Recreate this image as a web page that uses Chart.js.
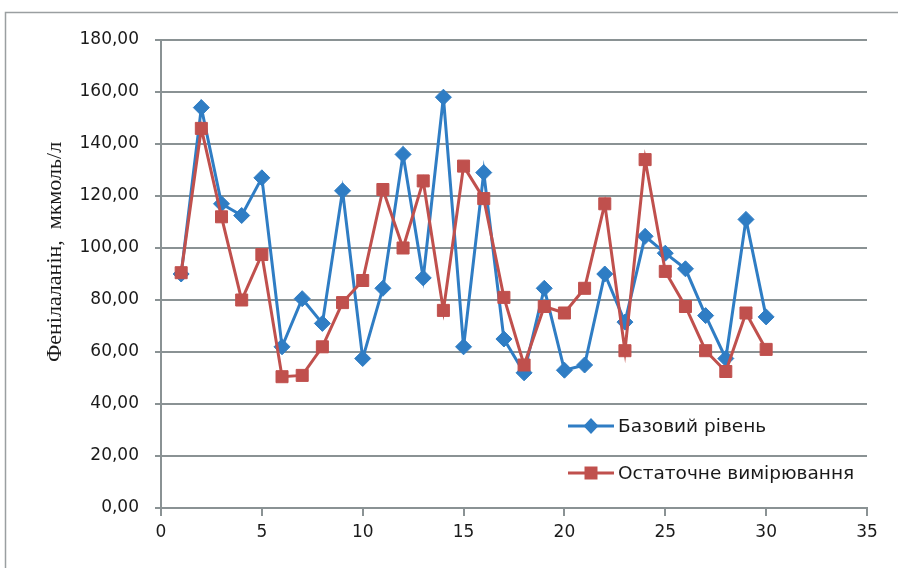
<!DOCTYPE html>
<html>
<head>
<meta charset="utf-8">
<script src="https://cdn.jsdelivr.net/npm/chart.js@4/dist/chart.umd.min.js"></script>
<style>
	html, body { margin: 0; padding: 0; background: #fff; }
	#pheChart { display: block; }
</style>
</head>
<body>
<canvas id="pheChart" width="898" height="568"></canvas>
<script>
	'use strict'

	// patient numbers along the x axis
	const patients = [1, 2, 3, 4, 5, 6, 7, 8, 9, 10, 11, 12, 13, 14, 15, 16, 17, 18, 19, 20, 21, 22, 23, 24, 25, 26, 27, 28, 29, 30];
	// phenylalanine, µmol/l
	const baseline = [90, 154, 117, 112.5, 127, 62, 80.5, 71, 122, 57.5, 84.5, 136, 88.5, 158, 62, 129, 65, 52, 84.5, 53, 55, 90, 71.5, 104.5, 98, 92, 74, 57.5, 111, 73.5];
	const finalMeasure = [90.5, 146, 112, 80, 97.5, 50.5, 51, 62, 79, 87.5, 122.5, 100, 125.8, 76, 131.5, 119, 81, 55, 77.5, 75, 84.5, 117, 60.5, 134, 91, 77.5, 60.5, 52.5, 75, 61];

	const seriesLabels = ['Базовий рівень', 'Остаточне вимірювання'];
	const yTitle = 'Фенілаланін,  мкмоль/л';
	const xTicks = [0, 5, 10, 15, 20, 25, 30, 35];
	const yTicks = [0, 20, 40, 60, 80, 100, 120, 140, 160, 180];

	const blue = '#2f7dc4';
	const red = '#c0504d';
	const gridGrey = '#8a9294';
	const tickFont = { family: '"DejaVu Sans", sans-serif', size: 17 };

	function toPoints(values) {
		return patients.map((p, i) => ({ x: p, y: values[i] }));
	}

	function formatTick(value) {
		return value.toFixed(2).replace('.', ',');
	}

	function drawMarker(ctx, style, x, y, color) {
		ctx.save();
		ctx.fillStyle = color;
		ctx.beginPath();
		if (style === 'rectRot') {
			ctx.moveTo(x, y - 8);
			ctx.lineTo(x + 7.5, y);
			ctx.lineTo(x, y + 8);
			ctx.lineTo(x - 7.5, y);
			ctx.closePath();
		} else {
			ctx.rect(x - 6.5, y - 6.5, 13, 13);
		}
		ctx.fill();
		ctx.restore();
	}

	const decorPlugin = {
		id: 'decor',
		beforeDraw(chart) {
			const ctx = chart.ctx;
			ctx.save();
			ctx.fillStyle = '#fff';
			ctx.fillRect(0, 0, chart.width, chart.height);
			ctx.strokeStyle = '#9a9fa1';
			ctx.lineWidth = 1.5;
			ctx.strokeRect(5.5, 12.5, chart.width + 20, chart.height + 20);
			ctx.restore();
		},
		afterDraw(chart) {
			const ctx = chart.ctx;

			// rotated axis title
			ctx.save();
			ctx.translate(55, 252);
			ctx.rotate(-Math.PI / 2);
			ctx.font = '22px "Liberation Serif", serif';
			ctx.fillStyle = '#1a1a1a';
			ctx.textAlign = 'center';
			ctx.textBaseline = 'middle';
			ctx.fillText(yTitle, 0, 0);
			ctx.restore();

			// legend inside the plot area
			const rows = [426, 473];
			chart.data.datasets.forEach((ds, i) => {
				const y = rows[i];
				ctx.save();
				ctx.strokeStyle = ds.borderColor;
				ctx.lineWidth = 3;
				ctx.beginPath();
				ctx.moveTo(568, y);
				ctx.lineTo(614, y);
				ctx.stroke();
				ctx.restore();
				drawMarker(ctx, ds.pointStyle, 591, y, ds.borderColor);
				ctx.save();
				ctx.font = '18.5px "DejaVu Sans", sans-serif';
				ctx.fillStyle = '#1a1a1a';
				ctx.textAlign = 'left';
				ctx.textBaseline = 'middle';
				ctx.fillText(ds.label, 618, y + 1);
				ctx.restore();
			});
		}
	};

	new Chart(document.getElementById('pheChart'), {
		type: 'line',
		data: {
			datasets: [
				{
					label: seriesLabels[0],
					data: toPoints(baseline),
					order: 1,
					borderColor: blue,
					backgroundColor: blue,
					borderWidth: 3,
					pointStyle: 'rectRot',
					pointRadius: 8,
					pointBorderWidth: 1,
					pointBackgroundColor: blue,
					pointBorderColor: blue,
					tension: 0
				},
				{
					label: seriesLabels[1],
					data: toPoints(finalMeasure),
					order: 0,
					borderColor: red,
					backgroundColor: red,
					borderWidth: 3,
					pointStyle: 'rect',
					pointRadius: 8.5,
					pointBorderWidth: 1,
					pointBackgroundColor: red,
					pointBorderColor: red,
					tension: 0
				}
			]
		},
		options: {
			responsive: false,
			animation: false,
			layout: {
				padding: { top: 40, right: 31, bottom: 0, left: 0 }
			},
			plugins: {
				legend: { display: false },
				tooltip: { enabled: false }
			},
			scales: {
				x: {
					type: 'linear',
					min: xTicks[0],
					max: xTicks[xTicks.length - 1],
					afterBuildTicks: (scale) => {
						scale.ticks = xTicks.map((v) => ({ value: v }));
					},
					afterFit: (scale) => {
						scale.height = 60;
					},
					border: { display: true, color: gridGrey, width: 2 },
					grid: {
						drawOnChartArea: false,
						drawTicks: true,
						tickLength: 8,
						color: gridGrey,
						lineWidth: 2
					},
					ticks: {
						font: tickFont,
						color: '#1a1a1a',
						padding: 6,
						maxRotation: 0
					}
				},
				y: {
					min: yTicks[0],
					max: yTicks[yTicks.length - 1],
					afterBuildTicks: (scale) => {
						scale.ticks = yTicks.map((v) => ({ value: v }));
					},
					afterFit: (scale) => {
						scale.width = 161;
					},
					border: { display: true, color: gridGrey, width: 2 },
					grid: {
						color: gridGrey,
						lineWidth: 2,
						drawTicks: true,
						tickLength: 6
					},
					ticks: {
						font: tickFont,
						color: '#1a1a1a',
						padding: 16,
						callback: formatTick
					}
				}
			}
		},
		plugins: [decorPlugin]
	});
</script>
</body>
</html>
